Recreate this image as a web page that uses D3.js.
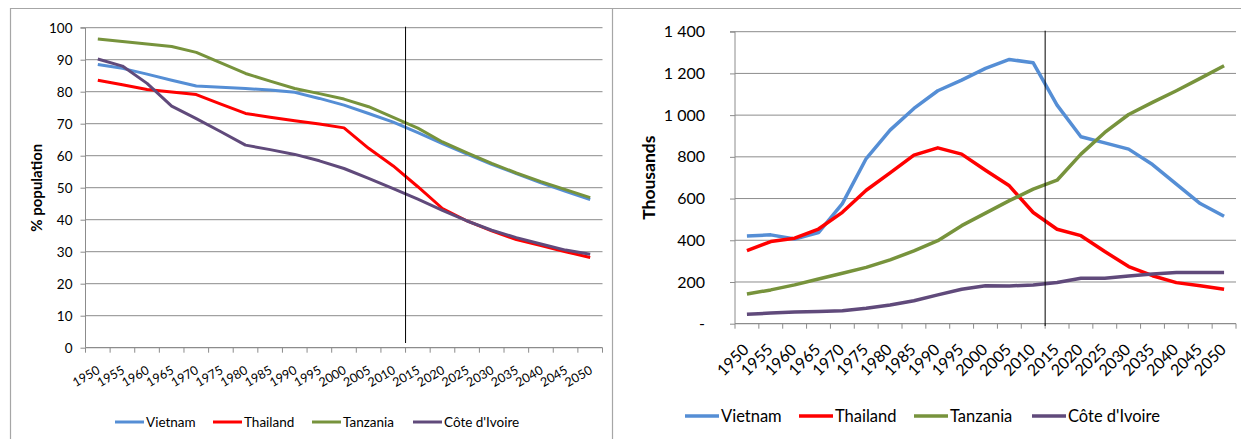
<!DOCTYPE html>
<html>
<head>
<meta charset="utf-8">
<script src="https://cdn.jsdelivr.net/npm/d3@7"></script>
<style>
  body { margin: 0; background: #fff; }
  text { font-family: Lato, "Open Sans", sans-serif; fill: #000; }
</style>
</head>
<body>
<script>
const width = 1241;
const height = 439;

const years = ['1950','1955','1960','1965','1970','1975','1980','1985','1990','1995','2000',
  '2005','2010','2015','2020','2025','2030','2035','2040','2045','2050'];
const countries = ['Vietnam', 'Thailand', 'Tanzania', "Côte d'Ivoire"];
const colors = ['#558ed5', '#ff0000', '#77933c', '#604a7b'];

// left panel: % population
const pctVietnam = [88.5, 87.3, 85.5, 83.6, 81.8, 81.4, 81.0, 80.5, 79.8, 77.9, 75.8,
  73.2, 70.5, 67.2, 63.8, 60.5, 57.3, 54.4, 51.5, 48.9, 46.3];
const pctThailand = [83.6, 82.2, 80.7, 79.9, 79.1, 76.1, 73.2, 72.0, 70.9, 69.9, 68.7,
  62.3, 56.8, 50.3, 43.5, 39.6, 36.5, 33.8, 31.9, 30.0, 28.2];
const pctTanzania = [96.5, 95.7, 94.9, 94.1, 92.3, 89.0, 85.7, 83.3, 81.0, 79.4, 77.7,
  75.3, 72.0, 68.6, 64.3, 60.9, 57.6, 54.6, 51.9, 49.4, 46.9];
const pctCote = [90.2, 88.0, 82.6, 75.5, 71.6, 67.5, 63.3, 61.9, 60.4, 58.4, 56.0,
  52.9, 49.7, 46.4, 42.9, 39.6, 36.7, 34.4, 32.4, 30.5, 29.2];
const pctTicks = [0, 10, 20, 30, 40, 50, 60, 70, 80, 90, 100];

// right panel: thousands
const thVietnam = [421, 426, 406, 437, 576, 792, 928, 1032, 1117, 1168, 1224,
  1267, 1251, 1048, 896, 867, 837, 763, 669, 576, 515];
const thThailand = [350, 394, 410, 454, 534, 640, 723, 808, 843, 813, 736,
  661, 533, 453, 422, 346, 274, 230, 197, 182, 165];
const thTanzania = [142, 162, 186, 214, 242, 270, 306, 349, 398, 470, 530,
  590, 645, 688, 813, 917, 1003, 1061, 1117, 1176, 1237];
const thCote = [45, 51, 56, 58, 62, 74, 90, 110, 138, 165, 182,
  181, 186, 198, 218, 218, 229, 238, 245, 246, 246];
const thTicks = [0, 200, 400, 600, 800, 1000, 1200, 1400];

const svg = d3.select('body')
  .append('svg')
  .attr('width', width)
  .attr('height', height);

svg.append('rect').attr('width', width).attr('height', height).attr('fill', '#fff');

// panel frames
svg.append('path')
  .attr('d', 'M10.5,439 V8.5 H612.5 V439 M612.5,8.5 H1241')
  .attr('fill', 'none')
  .attr('stroke', '#a6a6a6')
  .attr('stroke-width', 1.2);

function drawChart(cfg) {
  const g = svg.append('g');
  const x = d3.scaleBand().domain(years).range([cfg.left, cfg.right]);
  const y = d3.scaleLinear().domain(cfg.domain).range([cfg.bottom, cfg.top]);

  // gridlines
  g.selectAll('.grid')
    .data(cfg.ticks.slice(1))
    .enter().append('line')
    .attr('x1', cfg.left).attr('x2', cfg.right)
    .attr('y1', d => y(d)).attr('y2', d => y(d))
    .attr('stroke', '#8c8c8c').attr('stroke-width', 1);

  // y axis
  const yAxis = d3.axisLeft(y)
    .tickValues(cfg.ticks)
    .tickSize(5)
    .tickPadding(cfg.yPad)
    .tickFormat(cfg.yFormat);
  const ya = g.append('g')
    .attr('transform', `translate(${cfg.left},0)`)
    .call(yAxis);
  ya.select('.domain').attr('stroke', '#8c8c8c').attr('d', `M-5,${cfg.top}H0V${cfg.bottom}`);
  ya.selectAll('.tick line').attr('stroke', '#8c8c8c');
  ya.selectAll('text').style('font-size', cfg.yFont + 'px').attr('fill', '#000')
    .style('font-family', 'Lato, sans-serif');

  // x axis with ticks on category boundaries
  g.append('line')
    .attr('x1', cfg.left).attr('x2', cfg.right)
    .attr('y1', cfg.bottom).attr('y2', cfg.bottom)
    .attr('stroke', '#8c8c8c').attr('stroke-width', 1.3);
  const bounds = years.map(d => x(d)).concat([cfg.right]);
  g.selectAll('.xt')
    .data(bounds)
    .enter().append('line')
    .attr('x1', d => d).attr('x2', d => d)
    .attr('y1', cfg.bottom).attr('y2', cfg.bottom + 5)
    .attr('stroke', '#8c8c8c');
  g.selectAll('.xl')
    .data(years)
    .enter().append('text')
    .attr('text-anchor', 'end')
    .attr('transform', d => `translate(${x(d) + x.bandwidth() / 2 + cfg.xdx},${cfg.bottom + cfg.xdy}) rotate(${cfg.rot})`)
    .style('font-size', cfg.xFont + 'px')
    .text(d => d);

  // y title
  g.append('text')
    .attr('transform', `translate(${cfg.titleX},${(cfg.top + cfg.bottom) / 2}) rotate(-90)`)
    .attr('text-anchor', 'middle')
    .style('font-size', cfg.titleFont + 'px')
    .style('font-weight', 'bold')
    .text(cfg.title);

  // lines
  const line = d3.line()
    .x((d, i) => x(years[i]) + x.bandwidth() / 2)
    .y(d => y(d));
  cfg.series.forEach((s, k) => {
    g.append('path')
      .datum(s)
      .attr('d', line)
      .attr('fill', 'none')
      .attr('stroke', colors[k])
      .attr('stroke-width', cfg.lw)
      .attr('stroke-linejoin', 'round');
  });

  // divider line before 2015
  g.append('line')
    .attr('x1', x('2015')).attr('x2', x('2015'))
    .attr('y1', cfg.top - 1).attr('y2', cfg.vEnd)
    .attr('stroke', '#000').attr('stroke-width', 1);

  // legend
  const lg = g.selectAll('.lg')
    .data(countries)
    .enter().append('g')
    .attr('transform', (d, i) => `translate(${cfg.legX[i]},${cfg.legY})`);
  lg.append('line')
    .attr('x1', 0).attr('x2', cfg.legLen)
    .attr('stroke', (d, i) => colors[i])
    .attr('stroke-width', cfg.lw);
  lg.append('text')
    .attr('x', cfg.legLen + 2)
    .attr('dy', '0.35em')
    .style('font-size', cfg.legFont + 'px')
    .text(d => d);
}

drawChart({
  left: 85.5, right: 602.5, top: 27.7, bottom: 347.7,
  domain: [0, 100], ticks: pctTicks, yFormat: d3.format('d'),
  yFont: 13.5, yPad: 8, xFont: 12.5, rot: -30, xdx: 3, xdy: 25,
  title: '% population', titleX: 42, titleFont: 15,
  series: [pctVietnam, pctThailand, pctTanzania, pctCote],
  lw: 3, vEnd: 343,
  legX: [115, 213, 312, 413], legY: 422, legLen: 29, legFont: 13.5
});

drawChart({
  left: 735, right: 1236, top: 31.7, bottom: 323.7,
  domain: [0, 1400], ticks: thTicks,
  yFormat: d => d === 0 ? '-' : d3.format(',')(d).replace(',', ' '),
  yFont: 16, yPad: 25, xFont: 16, rot: -45, xdx: 3, xdy: 27,
  title: 'Thousands', titleX: 655, titleFont: 17.5,
  series: [thVietnam, thThailand, thTanzania, thCote],
  lw: 3.5, vEnd: 326,
  legX: [685, 799, 914, 1032], legY: 416, legLen: 34, legFont: 16.5
});
</script>
</body>
</html>
